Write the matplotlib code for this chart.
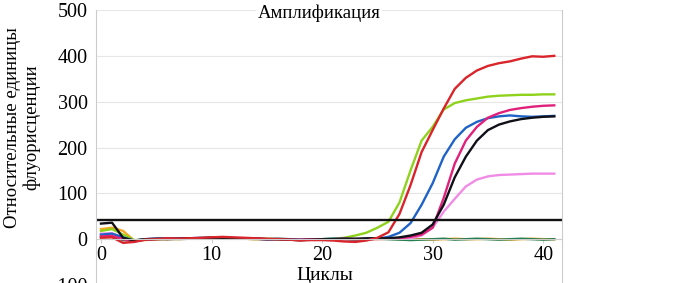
import numpy as np
import matplotlib
matplotlib.use('Agg')
import matplotlib.pyplot as plt

plt.rcParams['font.family'] = ['Liberation Serif', 'DejaVu Serif']

# циклы 0..41
cycles = np.arange(0, 42)

black = [34, 36, 3, -3, 0, 1, 0, 1, 2, 2, 3, 3, 2, 1, 1, 0, 0, -1, -2, -1,
         0, 0, 1, 1, 2, 2, 2, 4, 8, 14, 32, 75, 135, 180, 215, 238, 250, 257, 262, 265, 267, 268]
yellowgreen = [18, 22, 10, -2, -1, 0, 1, 0, 1, 2, 3, 2, 2, 1, 0, 1, 0, -1, -1, 0,
               0, 1, 3, 8, 14, 25, 38, 80, 150, 215, 245, 283, 297, 303, 307, 311, 313, 314, 315, 315, 316, 316]
orange = [22, 25, 18, -3, -2, 0, 0, 1, 1, 2, 2, 3, 2, 1, 0, 0, 1, 0, -1, -1,
          0, 0, 1, 0, -1, 0, 1, 0, 1, 0, -1, 0, 1, 0, 0, 1, 0, -1, 0, 1, 0, 0]
blue = [10, 12, 4, -3, 0, 1, 2, 1, 2, 3, 3, 2, 2, 1, 1, 0, 1, 0, -1, 0,
        0, 1, 1, 0, 0, 1, 5, 14, 35, 75, 122, 180, 218, 243, 256, 264, 268, 270, 268, 267, 268, 269]
magenta = [6, 7, 0, -5, -1, 0, 1, 1, 2, 2, 3, 3, 2, 2, 1, 0, 0, -1, -1, 0,
           0, 0, 1, 0, 0, 1, 1, 2, 5, 10, 25, 90, 165, 215, 245, 265, 275, 282, 286, 289, 291, 292]
lightpink = [12, 13, 3, -3, 0, 1, 1, 0, 1, 2, 2, 2, 1, 1, 0, 0, 0, -1, 0, 0,
             0, 0, 0, 1, 0, 0, 1, 1, 2, 8, 25, 60, 88, 115, 130, 137, 140, 141, 142, 143, 143, 143]
red = [3, 4, -8, -6, -1, 0, 2, 1, 2, 3, 4, 5, 4, 3, 2, 1, 0, -1, -3, -2,
       -2, -3, -5, -6, -3, 3, 15, 55, 118, 190, 238, 285, 328, 352, 368, 378, 384, 388, 394, 399, 398, 400]
darkgreen = [5, 6, -2, -3, -1, 0, 1, 1, 2, 2, 2, 3, 2, 1, 1, 0, 0, -1, -2, -1,
             0, 1, 0, -1, 0, 1, 0, -1, -2, -1, 0, 1, -1, 0, 1, 0, -1, 0, 1, 0, -1, 0]

threshold = 42

series = [
    (orange, '#f5a623'),
    (darkgreen, '#1e7a4a'),
    (lightpink, '#f08ce6'),
    (yellowgreen, '#8fd21c'),
    (blue, '#1f63c6'),
    (magenta, '#e0207a'),
    (black, '#101018'),
    (red, '#d8242a'),
]

fig = plt.figure(figsize=(6.98, 2.83), dpi=100)
ax = fig.add_axes([96/698, -0.0071, (562-96)/698, 0.9717])

for vals, col in series:
    ax.plot(cycles, vals, color=col, lw=1.7)

ax.axhline(threshold, color='#111111', lw=1.7)

ax.set_xlim(-0.45, 41.7)
ax.set_ylim(-100, 500)
ax.set_yticks([-100, 0, 100, 200, 300, 400, 500])
ax.set_xticks([0, 10, 20, 30, 40])
ax.grid(axis='y', color='#e6e6e6', lw=0.8)
ax.set_axisbelow(True)

for s in ['left', 'right', 'bottom']:
    ax.spines[s].set_color('#cccccc')
ax.spines['top'].set_visible(False)
ax.spines['bottom'].set_position(('data', 0))
ax.tick_params(axis='y', length=0, pad=6, labelsize=14.5)
ax.tick_params(axis='x', length=3, color='#cccccc', pad=2, labelsize=14.5)

fig.text(319/698, 1 - 13/283, 'Амплификация', ha='center', va='center', fontsize=13.5,
         bbox=dict(facecolor='white', edgecolor='none', pad=1))
fig.text(325/698, 1 - 275/283, 'Циклы', ha='center', va='center', fontsize=14)
fig.text(22/698, 0.55, 'Относительные единицы\nфлуорисценции', rotation=90,
         ha='center', va='center', fontsize=13.5, multialignment='center', linespacing=1.15)

fig.savefig('out.png', dpi=100)
